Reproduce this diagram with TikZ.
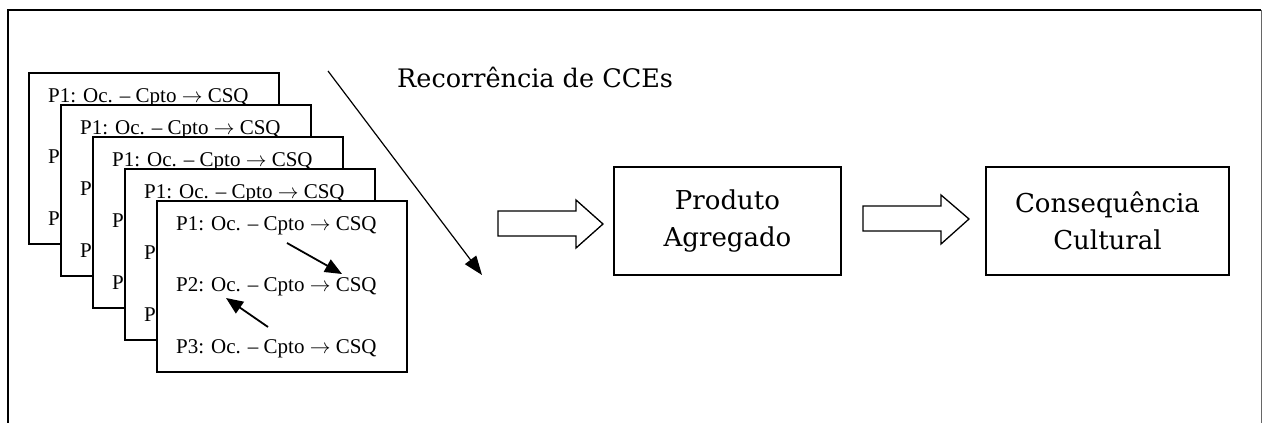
\documentclass[tikz,border=0pt]{standalone}
\usepackage{fontspec}
\setmainfont{Liberation Serif}
\newfontfamily\camb{DejaVu Serif}
\usetikzlibrary{arrows.meta}
\newcommand{\rarr}{\ensuremath{\rightarrow}}
\begin{document}
\begin{tikzpicture}[x=1pt,y=-1pt,
  card/.style={draw, fill=white, line width=1.5pt, minimum width=250pt, minimum height=171pt, anchor=north west, inner sep=0pt},
  pline/.style={anchor=base west, inner sep=0pt, font=\fontsize{21}{21}\selectfont},
  bigbox/.style={draw, line width=1.5pt, minimum height=108pt, inner sep=0pt, align=center, font=\camb\fontsize{26}{37}\selectfont},
  thinarr/.style={line width=1.2pt, -{Triangle[length=19pt,width=14pt]}},
  smallarr/.style={line width=1.8pt, -{Triangle[length=17pt,width=14pt]}},
  hollow/.style={draw, line width=1.3pt, line join=miter, fill=white}
]
\useasboundingbox (0,0) rectangle (1262,423);
% outer frame
\draw[line width=1.8pt] (8,423) -- (8,10) -- (1261,10);
\draw[line width=1pt, black!60] (1261,10) -- (1261,423);

% stacked back cards (only the visible parts of their texts)
\foreach \i in {0,...,3}{
  \node[card] (b\i) at (28+32*\i, 72+32*\i) {};
  \node[pline] (p\i a) at ([shift={(20,30)}]b\i.north west) {P1: Oc. – Cpto \rarr{} CSQ};
  \node[pline] (p\i b) at ([shift={(20,91)}]b\i.north west) {P};
  \node[pline] (p\i c) at ([shift={(20,153)}]b\i.north west) {P};
}
% front card
\node[card] (b4) at (156,200) {};
\node[pline] (p4a) at ([shift={(20,30)}]b4.north west) {P1: Oc. – Cpto \rarr{} CSQ};
\node[pline] (p4b) at ([shift={(20,91)}]b4.north west) {P2: Oc. – Cpto \rarr{} CSQ};
\node[pline] (p4c) at ([shift={(20,153)}]b4.north west) {P3: Oc. – Cpto \rarr{} CSQ};

% arrows inside front card
\coordinate (s1) at ([shift={(131,43)}]b4.north west);
\coordinate (e1) at ([shift={(186,74)}]b4.north west);
\coordinate (s2) at ([shift={(112,127)}]b4.north west);
\coordinate (e2) at ([shift={(70,98)}]b4.north west);
\draw[smallarr] (s1) -- (e1);
\draw[smallarr] (s2) -- (e2);

% diagonal arrow and label
\coordinate (d1) at (328,71);
\coordinate (d2) at (482,275);
\draw[thinarr] (d1) -- (d2);
\node[anchor=base west, inner sep=0pt, font=\camb\fontsize{25.5}{25.5}\selectfont] (rec) at (397,87) {Recorrência de CCEs};

% boxes
\node[bigbox, minimum width=227pt] (prod) at (727.5,221) {Produto\\Agregado};
\node[bigbox, minimum width=243pt] (cons) at (1107.5,221) {Consequência\\Cultural};

% hollow arrows
\path[hollow] (498,211) -- (576,211) -- (576,200) -- (603,224) -- (576,248) -- (576,236) -- (498,236) -- cycle;
\path[hollow] (863,206) -- (941,206) -- (941,195) -- (969,219) -- (941,244) -- (941,231) -- (863,231) -- cycle;
\end{tikzpicture}
\end{document}
